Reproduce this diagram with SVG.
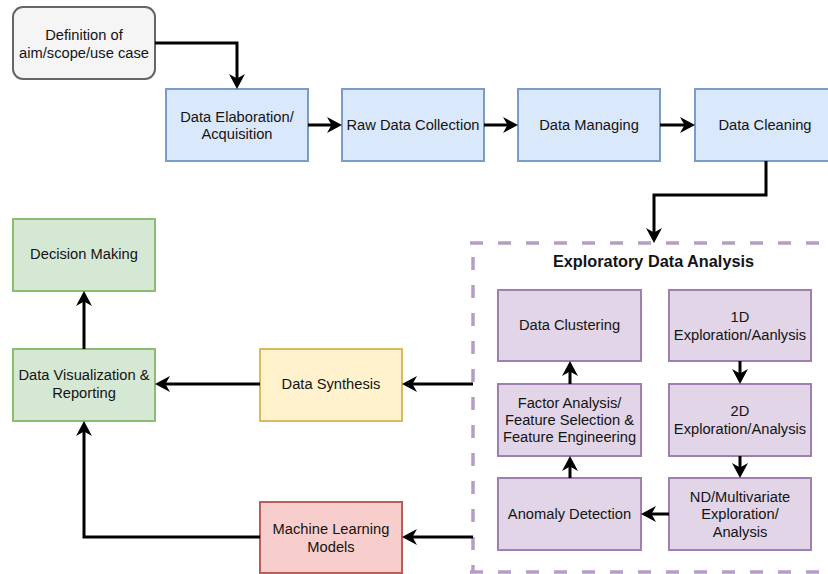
<svg xmlns="http://www.w3.org/2000/svg" width="828" height="574" viewBox="0 0 828 574">
  <style>
    .lbl { font-family: "Liberation Sans", Arial, sans-serif; font-size: 14.7px; fill: #141414; text-anchor: middle; }
    .title { font-family: "Liberation Sans", Arial, sans-serif; font-size: 16.3px; font-weight: bold; fill: #141414; text-anchor: middle; }
    .gray { fill: #f5f5f5; stroke: #666666; stroke-width: 2; }
    .blue { fill: #dae8fc; stroke: #7b9bc8; stroke-width: 2; }
    .purple { fill: #e1d5e7; stroke: #9f7fb0; stroke-width: 2; }
    .green { fill: #d5e8d4; stroke: #8dbb72; stroke-width: 2; }
    .yellow { fill: #fff2cc; stroke: #d9bb5f; stroke-width: 2; }
    .red { fill: #f8cecc; stroke: #bb5e5a; stroke-width: 2; }
    .edge { fill: none; stroke: #000000; stroke-width: 3; marker-end: url(#arrow); }
    .frame { fill: none; stroke: #b69dc6; stroke-width: 3.5; stroke-dasharray: 13 15; }
  </style>
  <defs>
    <marker id="arrow" markerUnits="userSpaceOnUse" markerWidth="18" markerHeight="18" refX="11" refY="8" orient="auto">
      <path d="M0,0 L15,8 L0,16 L4.5,8 Z" fill="#000000"/>
    </marker>
  </defs>

  <rect width="828" height="574" fill="#ffffff"/>

  <!-- EDA container (dashed frame, right edge runs past the canvas) -->
  <g id="eda">
    <line class="frame" x1="470" y1="243" x2="840" y2="243"/>
    <line class="frame" x1="473" y1="257" x2="473" y2="572"/>
    <line class="frame" x1="470" y1="572" x2="840" y2="572"/>
    <text class="title" x="653.5" y="267">Exploratory Data Analysis</text>
  </g>

  <!-- process nodes -->
  <g id="definition">
    <rect class="gray" x="13" y="7" width="142" height="72" rx="10"/>
    <text class="lbl" x="84" y="39.5">Definition of</text>
    <text class="lbl" x="84" y="57.5">aim/scope/use case</text>
  </g>
  <g id="elaboration">
    <rect class="blue" x="166" y="89" width="142" height="72"/>
    <text class="lbl" x="237" y="121.5">Data Elaboration/</text>
    <text class="lbl" x="237" y="139">Acquisition</text>
  </g>
  <g id="raw-collection">
    <rect class="blue" x="342" y="89" width="142" height="72"/>
    <text class="lbl" x="413" y="130">Raw Data Collection</text>
  </g>
  <g id="managing">
    <rect class="blue" x="518" y="89" width="142" height="72"/>
    <text class="lbl" x="589" y="130">Data Managing</text>
  </g>
  <g id="cleaning">
    <rect class="blue" x="695" y="89" width="142" height="72"/>
    <text class="lbl" x="765" y="130">Data Cleaning</text>
  </g>

  <g id="clustering">
    <rect class="purple" x="498" y="290" width="143" height="71"/>
    <text class="lbl" x="569.5" y="330">Data Clustering</text>
  </g>
  <g id="explore-1d">
    <rect class="purple" x="669" y="290" width="142" height="71"/>
    <text class="lbl" x="740" y="321.5">1D</text>
    <text class="lbl" x="740" y="339.5">Exploration/Aanlysis</text>
  </g>
  <g id="factor-analysis">
    <rect class="purple" x="498" y="384" width="143" height="72"/>
    <text class="lbl" x="569.5" y="407.5">Factor Analysis/</text>
    <text class="lbl" x="569.5" y="424.5">Feature Selection &amp;</text>
    <text class="lbl" x="569.5" y="442">Feature Engineering</text>
  </g>
  <g id="explore-2d">
    <rect class="purple" x="669" y="384" width="142" height="72"/>
    <text class="lbl" x="740" y="416">2D</text>
    <text class="lbl" x="740" y="433.5">Exploration/Analysis</text>
  </g>
  <g id="anomaly">
    <rect class="purple" x="498" y="478" width="143" height="72"/>
    <text class="lbl" x="569.5" y="519">Anomaly Detection</text>
  </g>
  <g id="explore-nd">
    <rect class="purple" x="669" y="478" width="142" height="72"/>
    <text class="lbl" x="740" y="502">ND/Multivariate</text>
    <text class="lbl" x="740" y="519">Exploration/</text>
    <text class="lbl" x="740" y="536.5">Analysis</text>
  </g>

  <g id="decision">
    <rect class="green" x="13" y="219" width="142" height="72"/>
    <text class="lbl" x="84" y="259">Decision Making</text>
  </g>
  <g id="visualization">
    <rect class="green" x="13" y="349" width="142" height="72"/>
    <text class="lbl" x="84" y="380">Data Visualization &amp;</text>
    <text class="lbl" x="84" y="398">Reporting</text>
  </g>
  <g id="synthesis">
    <rect class="yellow" x="260" y="349" width="142" height="72"/>
    <text class="lbl" x="331" y="389">Data Synthesis</text>
  </g>
  <g id="ml-models">
    <rect class="red" x="260" y="502" width="142" height="71"/>
    <text class="lbl" x="331" y="534">Machine Learning</text>
    <text class="lbl" x="331" y="552">Models</text>
  </g>

  <!-- connectors -->
  <g id="connectors">
    <path class="edge" d="M155,43 H237 V85"/>
    <path class="edge" d="M308,125 H338"/>
    <path class="edge" d="M484,125 H514"/>
    <path class="edge" d="M660,125 H691"/>
    <path class="edge" d="M766,161 V195 H654 V239"/>

    <path class="edge" d="M740,361 V380"/>
    <path class="edge" d="M740,456 V474"/>
    <path class="edge" d="M669,514 H645"/>
    <path class="edge" d="M570,478 V460"/>
    <path class="edge" d="M570,384 V365"/>

    <path class="edge" d="M473,384 H406"/>
    <path class="edge" d="M473,537 H406"/>
    <path class="edge" d="M260,384 H159"/>
    <path class="edge" d="M260,537 H84 V425"/>
    <path class="edge" d="M84,349 V295"/>
  </g>
</svg>
